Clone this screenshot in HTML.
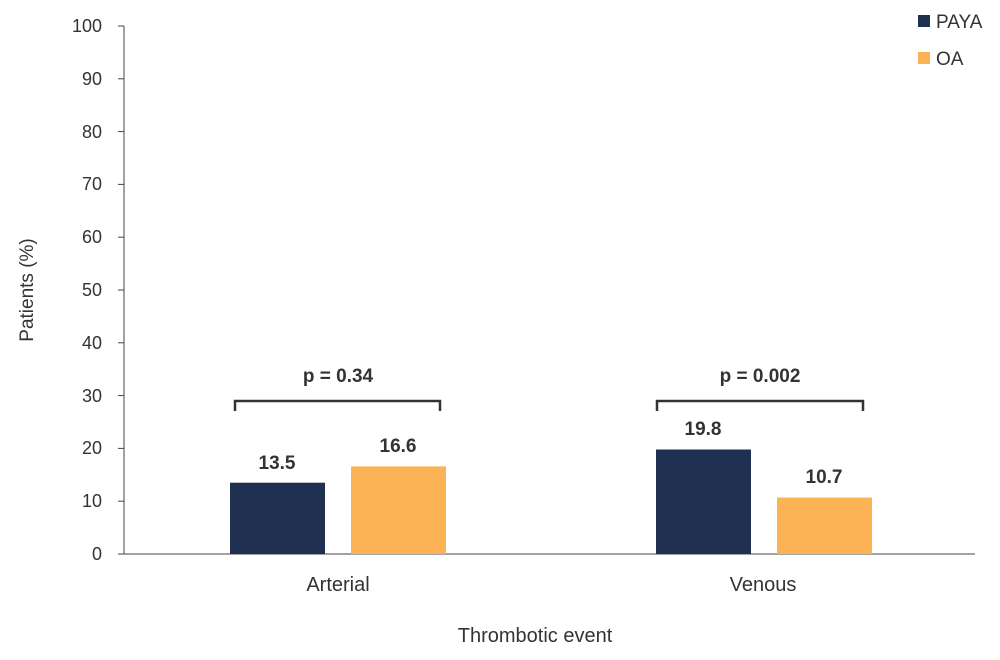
<!DOCTYPE html>
<html><head><style>body{margin:0;background:#fff}</style></head><body>
<svg width="1000" height="655" xmlns="http://www.w3.org/2000/svg" font-family="Liberation Sans, sans-serif" fill="#333">
<g stroke="#444" stroke-width="1">
<line x1="124" y1="26" x2="124" y2="554"/>
<line x1="124" y1="554" x2="975" y2="554"/>
<line x1="118" y1="554" x2="124" y2="554"/><line x1="118" y1="501.2" x2="124" y2="501.2"/><line x1="118" y1="448.4" x2="124" y2="448.4"/><line x1="118" y1="395.6" x2="124" y2="395.6"/><line x1="118" y1="342.8" x2="124" y2="342.8"/><line x1="118" y1="290" x2="124" y2="290"/><line x1="118" y1="237.2" x2="124" y2="237.2"/><line x1="118" y1="184.4" x2="124" y2="184.4"/><line x1="118" y1="131.6" x2="124" y2="131.6"/><line x1="118" y1="78.8" x2="124" y2="78.8"/><line x1="118" y1="26" x2="124" y2="26"/>
</g>
<g font-size="18" text-anchor="end">
<text x="102" y="560">0</text><text x="102" y="507">10</text><text x="102" y="454">20</text><text x="102" y="402">30</text><text x="102" y="349">40</text><text x="102" y="296">50</text><text x="102" y="243">60</text><text x="102" y="190">70</text><text x="102" y="138">80</text><text x="102" y="85">90</text><text x="102" y="32">100</text>
</g>
<text transform="translate(33,290) rotate(-90)" font-size="19" text-anchor="middle">Patients (%)</text>
<rect x="230" y="482.7" width="95" height="71.3" fill="#1f3050"/>
<rect x="351" y="466.4" width="95" height="87.6" fill="#fbb355"/>
<rect x="656" y="449.5" width="95" height="104.5" fill="#1f3050"/>
<rect x="777" y="497.5" width="95" height="56.5" fill="#fbb355"/>
<g font-size="19" font-weight="bold" text-anchor="middle">
<text x="277" y="469">13.5</text><text x="398" y="452">16.6</text><text x="703" y="435">19.8</text><text x="824" y="483">10.7</text>
<text x="338" y="382">p = 0.34</text><text x="760" y="382">p = 0.002</text>
</g>
<g stroke="#333" stroke-width="2.5" fill="none">
<path d="M235 411 V401 H440 V411"/><path d="M657 411 V401 H863 V411"/>
</g>
<g font-size="20" text-anchor="middle">
<text x="338" y="591">Arterial</text><text x="763" y="591">Venous</text>
<text x="535" y="642">Thrombotic event</text>
</g>
<rect x="918" y="15" width="12" height="12" fill="#1f3050"/>
<text x="936" y="28" font-size="19">PAYA</text>
<rect x="918" y="52" width="12" height="12" fill="#fbb355"/>
<text x="936" y="65" font-size="19">OA</text>
</svg>
</body></html>
